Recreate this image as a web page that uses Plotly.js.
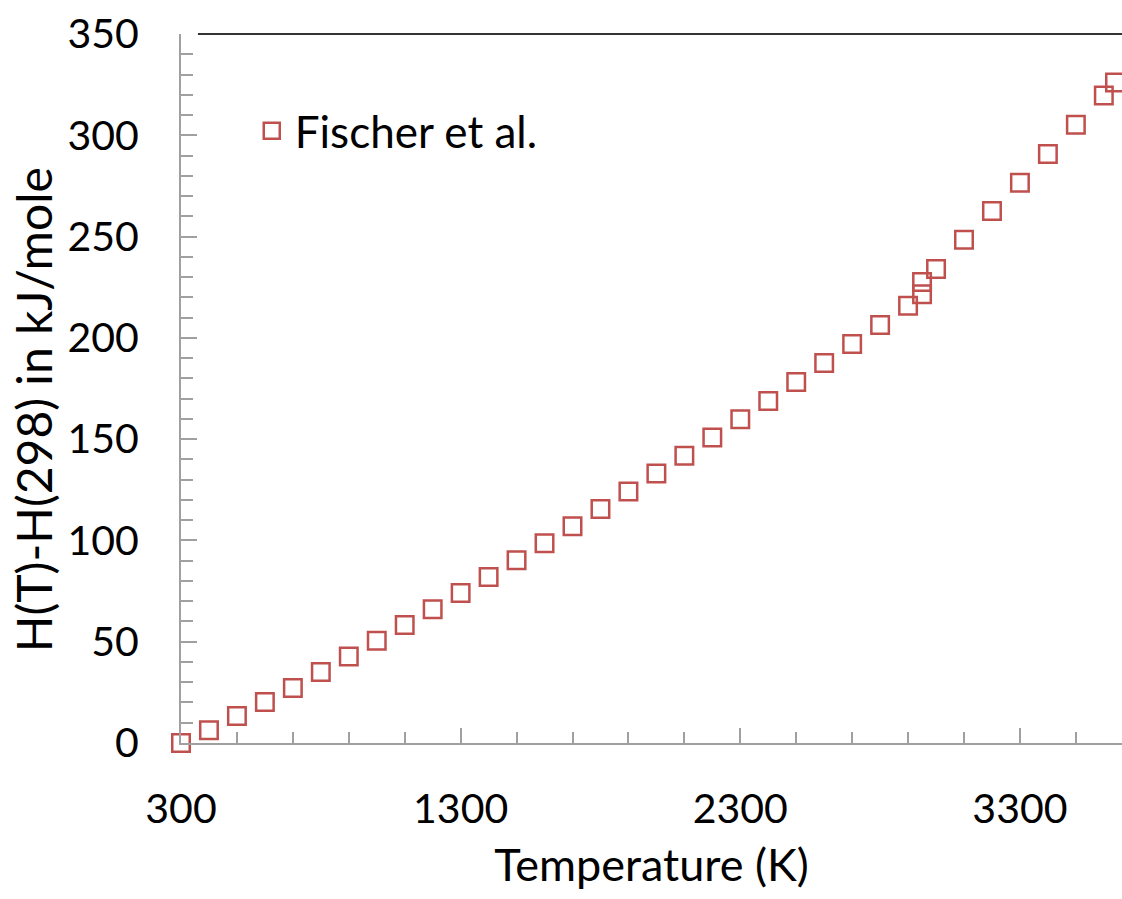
<!DOCTYPE html>
<html>
<head>
<meta charset="utf-8">
<script src="https://cdn.plot.ly/plotly-3.0.1.min.js"></script>
<style>html,body{margin:0;padding:0;background:#fff;}#chart{width:1122px;height:899px;}</style>
</head>
<body>
<div id="chart"></div>
<script>
// Data
const seriesName = "Fischer et al.";
const xTitle = "Temperature (K)";
const yTitle = "H(T)-H(298) in kJ/mole";
const temperatureK = [300, 400, 500, 600, 700, 800, 900, 1000, 1100, 1200,
  1300, 1400, 1500, 1600, 1700, 1800, 1900, 2000, 2100, 2200,
  2300, 2400, 2500, 2600, 2700, 2800, 2900, 2950, 2950, 3000,
  3100, 3200, 3300, 3400, 3500, 3600, 3640];
const enthalpyKJ = [0, 6.3, 13.3, 20.3, 27.2, 35.0, 42.7, 50.5, 58.2, 66.0,
  74.0, 82.0, 90.2, 98.6, 107.0, 115.5, 124.2, 133.0, 141.8, 150.8,
  159.8, 168.8, 178.2, 187.6, 197.0, 206.3, 215.8, 221.5, 227.6, 234.0,
  248.4, 262.6, 276.6, 290.8, 305.2, 319.7, 326.0];
const xTickVals = [300, 1300, 2300, 3300];
const yTickVals = [0, 50, 100, 150, 200, 250, 300, 350];

const FONT = "Lato, 'Open Sans', sans-serif";
const AXIS_GREY = "#a0a0a0";

const trace = {
  x: temperatureK,
  y: enthalpyKJ,
  type: "scatter",
  mode: "markers",
  name: seriesName,
  marker: {
    symbol: "square-open",
    size: 17.5,
    color: "#c0504d",
    line: {width: 2.5, color: "#c0504d"}
  },
  cliponaxis: false
};

const layout = {
  width: 1122,
  height: 899,
  margin: {l: 181, r: 0, t: 34, b: 156},
  paper_bgcolor: "#ffffff",
  plot_bgcolor: "#ffffff",
  font: {family: FONT, size: 41, color: "#000000"},
  showlegend: true,
  legend: {
    x: 0.072, y: 0.863, xanchor: "left", yanchor: "middle",
    bgcolor: "rgba(0,0,0,0)",
    font: {family: FONT, size: 44, color: "#000"},
    itemwidth: 36
  },
  xaxis: {
    range: [300, 3665],
    tickmode: "array",
    tickvals: xTickVals,
    ticks: "inside",
    ticklen: 15,
    tickwidth: 2,
    tickcolor: AXIS_GREY,
    minor: {dtick: 200, tick0: 300, ticks: "inside", ticklen: 11, tickwidth: 2, tickcolor: AXIS_GREY},
    showline: true,
    linecolor: AXIS_GREY,
    linewidth: 2,
    showgrid: false,
    zeroline: false,
    tickfont: {family: FONT, size: 41},
    ticklabelstandoff: 29,
    title: {text: xTitle, font: {family: FONT, size: 45}, standoff: 18},
    automargin: false
  },
  yaxis: {
    range: [0, 350],
    tickmode: "array",
    tickvals: yTickVals,
    ticks: "inside",
    ticklen: 16,
    tickwidth: 2,
    tickcolor: AXIS_GREY,
    minor: {dtick: 10, tick0: 0, ticks: "inside", ticklen: 12, tickwidth: 2, tickcolor: AXIS_GREY},
    showline: true,
    linecolor: AXIS_GREY,
    linewidth: 2,
    showgrid: false,
    zeroline: false,
    tickfont: {family: FONT, size: 41},
    ticklabelstandoff: 32,
    automargin: false
  },
  annotations: [{
    text: yTitle,
    xref: "paper", yref: "paper",
    x: -0.156, y: 0.4697,
    xanchor: "center", yanchor: "middle",
    textangle: -90,
    showarrow: false,
    font: {family: FONT, size: 48, color: "#000"}
  }],
  shapes: [{
    type: "line", xref: "paper", yref: "paper",
    x0: 0.018, x1: 1, y0: 1, y1: 1,
    line: {color: "#333333", width: 2}
  }]
};

Plotly.newPlot("chart", [trace], layout, {displayModeBar: false, staticPlot: true});
</script>
</body>
</html>
